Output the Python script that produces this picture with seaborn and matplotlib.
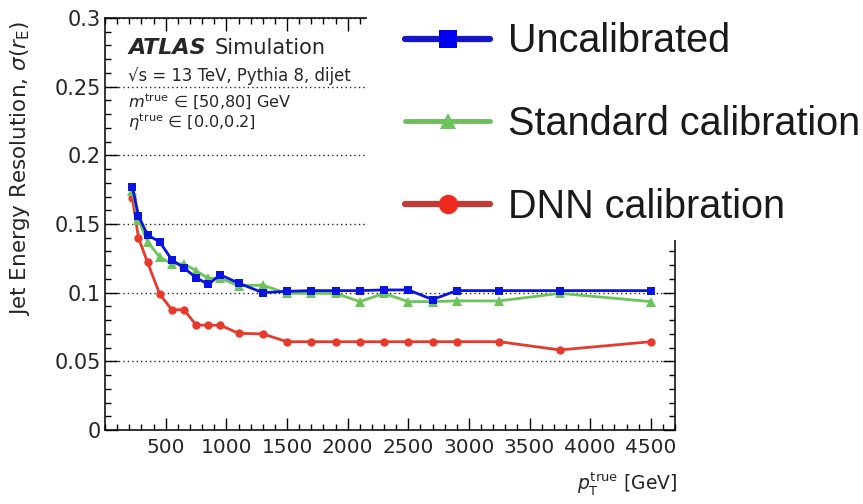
import matplotlib
matplotlib.use("Agg")
import matplotlib.pyplot as plt
import seaborn as sns
import numpy as np
from matplotlib.lines import Line2D
from matplotlib.patches import Rectangle

# ---------------- data ----------------
pt_true = [225, 275, 350, 450, 550, 650, 750, 850, 950, 1100, 1300, 1500, 1700,
           1900, 2100, 2300, 2500, 2700, 2900, 3250, 3750, 4500]
uncalibrated = [0.177, 0.156, 0.142, 0.137, 0.124, 0.118, 0.111, 0.106, 0.113,
                0.107, 0.100, 0.101, 0.1015, 0.1015, 0.1015, 0.102, 0.102,
                0.095, 0.1015, 0.1015, 0.1015, 0.1015]
standard_calib = [0.174, 0.153, 0.137, 0.126, 0.121, 0.121, 0.116, 0.1105,
                  0.1105, 0.105, 0.1055, 0.0995, 0.0995, 0.0995, 0.0935,
                  0.0995, 0.0935, 0.0935, 0.094, 0.094, 0.0995, 0.0935]
dnn_calib = [0.169, 0.140, 0.122, 0.099, 0.0876, 0.0876, 0.0765, 0.0763,
             0.0763, 0.0704, 0.070, 0.0643, 0.0643, 0.0643, 0.0643, 0.0643,
             0.0643, 0.0643, 0.0643, 0.0643, 0.0583, 0.0643]
series_labels = ["Uncalibrated", "Standard calibration", "DNN calibration"]
xtick_values = [500, 1000, 1500, 2000, 2500, 3000, 3500, 4000, 4500]
xtick_labels = ["500", "1000", "1500", "2000", "2500", "3000", "3500", "4000", "4500"]
ytick_values = [0, 0.05, 0.1, 0.15, 0.2, 0.25, 0.3]
ytick_labels = ["0", "0.05", "0.1", "0.15", "0.2", "0.25", "0.3"]

# ---------------- style ----------------
sns.set_style("ticks")
plt.rcParams["font.family"] = ["DejaVu Sans"]
plt.rcParams["mathtext.fontset"] = "dejavusans"

BLUE = "#0a14e0"
GREEN = "#6cc45a"
RED = "#e53a2c"

fig = plt.figure(figsize=(8.63, 5.04), dpi=100)
ax = fig.add_axes([0.1218, 0.1468, 0.6604, 0.8175])

sns.lineplot(x=pt_true, y=dnn_calib, ax=ax, color=RED, marker="o",
             markersize=6, markeredgewidth=0, linewidth=2.0)
sns.lineplot(x=pt_true, y=standard_calib, ax=ax, color=GREEN, marker="^",
             markersize=6.5, markeredgewidth=0, linewidth=2.0)
sns.lineplot(x=pt_true, y=uncalibrated, ax=ax, color=BLUE, marker="s",
             markersize=5.5, markeredgewidth=0, linewidth=2.0)

ax.set_xlim(0, 4700)
ax.set_ylim(0, 0.3)
ax.set_xticks(xtick_values)
ax.set_xticklabels(xtick_labels)
ax.set_yticks(ytick_values)
ax.set_yticklabels(ytick_labels)
ax.set_xticks(np.arange(0, 4701, 100), minor=True)
ax.set_yticks(np.arange(0, 0.3001, 0.01), minor=True)
ax.tick_params(which="both", direction="in", top=True, right=True,
               color="black", width=1.0)
ax.tick_params(which="major", length=9)
ax.tick_params(which="minor", length=4.5)
ax.tick_params(axis="y", labelsize=15, pad=3)
ax.tick_params(axis="x", labelsize=14.5, pad=6)
for s in ax.spines.values():
    s.set_linewidth(1.1)
    s.set_color("black")

ax.yaxis.grid(True, which="major", linestyle=(0, (1, 2.2)), color="#222222",
              linewidth=1.0)
ax.set_axisbelow(True)

ax.set_xlabel(r"$p_{\mathrm{T}}^{\mathrm{true}}$ [GeV]", fontsize=13.5, loc="right")
ax.xaxis.set_label_coords(1.0035, -0.098)
ax.set_ylabel(r"Jet Energy Resolution, $\sigma(r_{\mathrm{E}})$", fontsize=15.5,
              loc="top")
ax.yaxis.set_label_coords(-0.128, 0.993)

# ATLAS label block
ax.text(0.0402, 0.9126, "ATLAS", transform=ax.transAxes, fontsize=16,
        fontweight="bold", fontstyle="italic", va="baseline", ha="left")
ax.text(0.1928, 0.9126, "Simulation", transform=ax.transAxes, fontsize=15,
        va="baseline", ha="left")
ax.text(0.0402, 0.847, "√s = 13 TeV, Pythia 8, dijet", transform=ax.transAxes,
        fontsize=11.9, va="baseline", ha="left")
ax.text(0.0402, 0.7816, r"$m^{\mathrm{true}}$ ∈ [50,80] GeV", transform=ax.transAxes,
        fontsize=11.6, va="baseline", ha="left")
ax.text(0.0402, 0.733, r"$\eta^{\mathrm{true}}$ ∈ [0.0,0.2]", transform=ax.transAxes,
        fontsize=11.6, va="baseline", ha="left")

# white legend panel overlapping the plot
fig.add_artist(Rectangle((0.4253, 0.5238), 0.5747, 0.4762,
                         transform=fig.transFigure, facecolor="white",
                         edgecolor="none", zorder=10))

handles = [
    Line2D([], [], color="#1414c8", lw=4.5, marker="s", ms=13,
           markerfacecolor="#0000ee", markeredgewidth=0),
    Line2D([], [], color="#6cbf5c", lw=3.5, marker="^", ms=11,
           markerfacecolor="#6cc45a", markeredgewidth=0),
    Line2D([], [], color="#c23a36", lw=4.5, marker="o", ms=14,
           markerfacecolor="#ee2a1e", markeredgewidth=0),
]
leg = fig.legend(handles, series_labels, loc="upper left",
                 bbox_to_anchor=(0.4693, 0.9555), bbox_transform=fig.transFigure,
                 frameon=False, handlelength=2.15, handletextpad=0.45,
                 labelspacing=1.13, borderpad=0, borderaxespad=0,
                 prop={"family": ["Liberation Sans"], "size": 28.5})
leg.set_zorder(11)
for t in leg.get_texts():
    t.set_color("#1a1a1a")

fig.savefig("out.png", dpi=100)
